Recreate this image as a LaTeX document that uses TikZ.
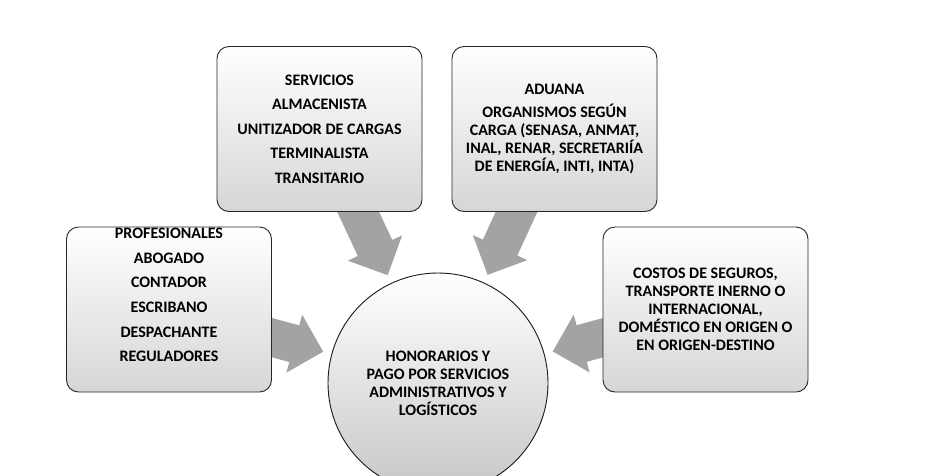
\documentclass[tikz,border=0pt]{standalone}
\usepackage{fontspec}
\setmainfont{Carlito}
\usetikzlibrary{calc,backgrounds}
\newcommand\diagfont{\fontsize{16}{18}\selectfont\bfseries}
\begin{document}
\begin{tikzpicture}[x=1pt,y=-1pt,
  box/.style={draw=black!85, line width=0.9pt, rounded corners=12pt,
    minimum width=205pt, minimum height=165pt, shading=axis,
    top color=white, middle color=white, bottom color=black!16,
    align=center, font=\diagfont, inner sep=0pt},
  circ/.style={circle, draw=black!90, line width=0.9pt, minimum size=220pt,
    shading=axis, top color=white, middle color=white, bottom color=black!22,
    align=center, font=\diagfont, inner sep=0pt},
  txt/.style={align=center, font=\diagfont, inner sep=0pt},
  bigarrow/.style={fill=black!36, draw=none}]
\clip (0,0) rectangle (950,475);

\node[circ] (c) at (438,383) {HONORARIOS Y\\PAGO POR SERVICIOS\\ADMINISTRATIVOS Y\\LOGÍSTICOS};

\node[box] (s1) at (319.5,129) {SERVICIOS\\[6.5pt]ALMACENISTA\\[6.5pt]UNITIZADOR DE CARGAS\\[6.5pt]TERMINALISTA\\[6.5pt]TRANSITARIO};

\node[box] (s2) at (554.5,129) {ADUANA\\[5pt]ORGANISMOS SEGÚN\\CARGA (SENASA, ANMAT,\\INAL, RENAR, SECRETARIÍA\\DE ENERGÍA, INTI, INTA)};

\node[box, path picture={\node[txt] at ([yshift=14.5pt]path picture bounding box.center)
  {PROFESIONALES\\[6.7pt]ABOGADO\\[6.7pt]CONTADOR\\[6.7pt]ESCRIBANO\\[6.7pt]DESPACHANTE\\[6.7pt]REGULADORES};}]
  (s3) at (169,309.5) {};

\node[box] (s4) at (705.5,309.5) {COSTOS DE SEGUROS,\\TRANSPORTE INERNO O\\INTERNACIONAL,\\DOMÉSTICO EN ORIGEN O\\EN ORIGEN-DESTINO};

\begin{scope}[on background layer]
\foreach \b in {s1,s2,s3,s4}{
  \coordinate (t) at ($(c.center)!119pt!(\b.center)$);
  \coordinate (h) at ($(t)!30pt!(\b.center)$);
  \fill[bigarrow] ($(\b.center)!19pt!90:(t)$) -- ($(h)!19pt!90:(t)$)
    -- ($(h)!30pt!90:(t)$) -- (t) -- ($(h)!30pt!-90:(t)$)
    -- ($(h)!19pt!-90:(t)$) -- ($(\b.center)!19pt!-90:(t)$) -- cycle;
}
\end{scope}
\end{tikzpicture}
\end{document}
